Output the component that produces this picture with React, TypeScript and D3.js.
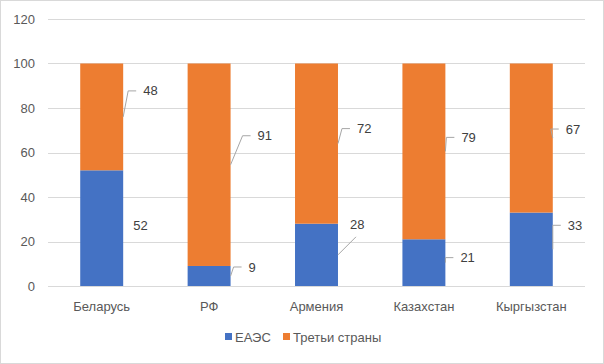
import React from "react";
import * as d3 from "d3";

const countries = ["Беларусь", "РФ", "Армения", "Казахстан", "Кыргызстан"];
const eaesValues = [52, 9, 28, 21, 33];
const thirdValues = [48, 91, 72, 79, 67];
const yTicks = [0, 20, 40, 60, 80, 100, 120];
const seriesNames = ["ЕАЭС", "Третьи страны"];

// label offsets from bar right edge / segment middle: [dx, dy, leader]
const eaesLabelPos: [number, number, string][] = [
  [10, -3, "none"],
  [18, -9, "elbow"],
  [12, -30, "below"],
  [15, -5, "elbow"],
  [15, -24, "elbow"],
];
const thirdLabelPos: [number, number, string][] = [
  [20, -26, "elbow"],
  [27, -29, "elbow"],
  [19, -15, "elbow"],
  [16, -14, "elbow"],
  [13, -9, "elbow"],
];

const W = 604;
const H = 364;
const margin = { top: 19, right: 19, bottom: 78, left: 48 };
const COLORS = ["#4472c4", "#ed7d31"];
const FONT = "'Liberation Sans', Arial, sans-serif";

export default function App() {
  const x = d3
    .scaleBand<string>()
    .domain(countries)
    .range([margin.left, W - margin.right])
    .paddingInner(0.6)
    .paddingOuter(0.3);
  const y = d3
    .scaleLinear()
    .domain([0, 120])
    .range([H - margin.bottom, margin.top]);

  const rows = countries.map((c, i) => ({
    c,
    segs: [
      { v: eaesValues[i], y0: 0, y1: eaesValues[i], pos: eaesLabelPos[i] },
      {
        v: thirdValues[i],
        y0: eaesValues[i],
        y1: eaesValues[i] + thirdValues[i],
        pos: thirdLabelPos[i],
      },
    ],
  }));

  return (
    <div style={{ position: "fixed", left: 0, top: 0 }}>
      <svg width={W} height={H} style={{ display: "block", fontFamily: FONT }}>
        <rect x={0.5} y={0.5} width={W - 1} height={H - 1} fill="#fff" stroke="#d9d9d9" />
        {yTicks.map((t) => (
          <g key={t}>
            <line
              x1={margin.left}
              x2={W - margin.right}
              y1={Math.round(y(t)) + 0.5}
              y2={Math.round(y(t)) + 0.5}
              stroke="#d9d9d9"
            />
            <text
              x={35}
              y={y(t)}
              dy="0.35em"
              textAnchor="end"
              fontSize={13}
              fill="#595959"
            >
              {t}
            </text>
          </g>
        ))}
        {rows.map((r) =>
          r.segs.map((s, j) => (
            <rect
              key={r.c + j}
              x={x(r.c)}
              y={y(s.y1)}
              width={x.bandwidth()}
              height={y(s.y0) - y(s.y1)}
              fill={COLORS[j]}
            />
          ))
        )}
        {rows.map((r) =>
          r.segs.map((s, j) => {
            const ax = (x(r.c) ?? 0) + x.bandwidth();
            const ay = y((s.y0 + s.y1) / 2);
            const [dx, dy, kind] = s.pos;
            const tx = ax + dx;
            const ty = ay + dy;
            let path = "";
            if (kind === "elbow") {
              path = `M${ax},${ay}L${tx - 15},${ty}L${tx - 7},${ty}`;
            } else if (kind === "below") {
              path = `M${ax},${ay}L${tx + 6},${ty + 12}`;
            }
            return (
              <g key={"l" + r.c + j}>
                {path && <path d={path} fill="none" stroke="#a6a6a6" strokeWidth={1} />}
                <text x={tx} y={ty} dy="0.35em" fontSize={13} fill="#404040">
                  {s.v}
                </text>
              </g>
            );
          })
        )}
        {countries.map((c) => (
          <text
            key={c}
            x={(x(c) ?? 0) + x.bandwidth() / 2}
            y={306}
            dy="0.35em"
            textAnchor="middle"
            fontSize={13}
            fill="#595959"
          >
            {c}
          </text>
        ))}
        <g transform="translate(225,337)">
          <rect x={0} y={-4} width={7} height={7} fill={COLORS[0]} />
          <text x={10} y={0} dy="0.35em" fontSize={13} fill="#595959">
            {seriesNames[0]}
          </text>
          <rect x={58} y={-4} width={7} height={7} fill={COLORS[1]} />
          <text x={68} y={0} dy="0.35em" fontSize={13} fill="#595959">
            {seriesNames[1]}
          </text>
        </g>
      </svg>
    </div>
  );
}
